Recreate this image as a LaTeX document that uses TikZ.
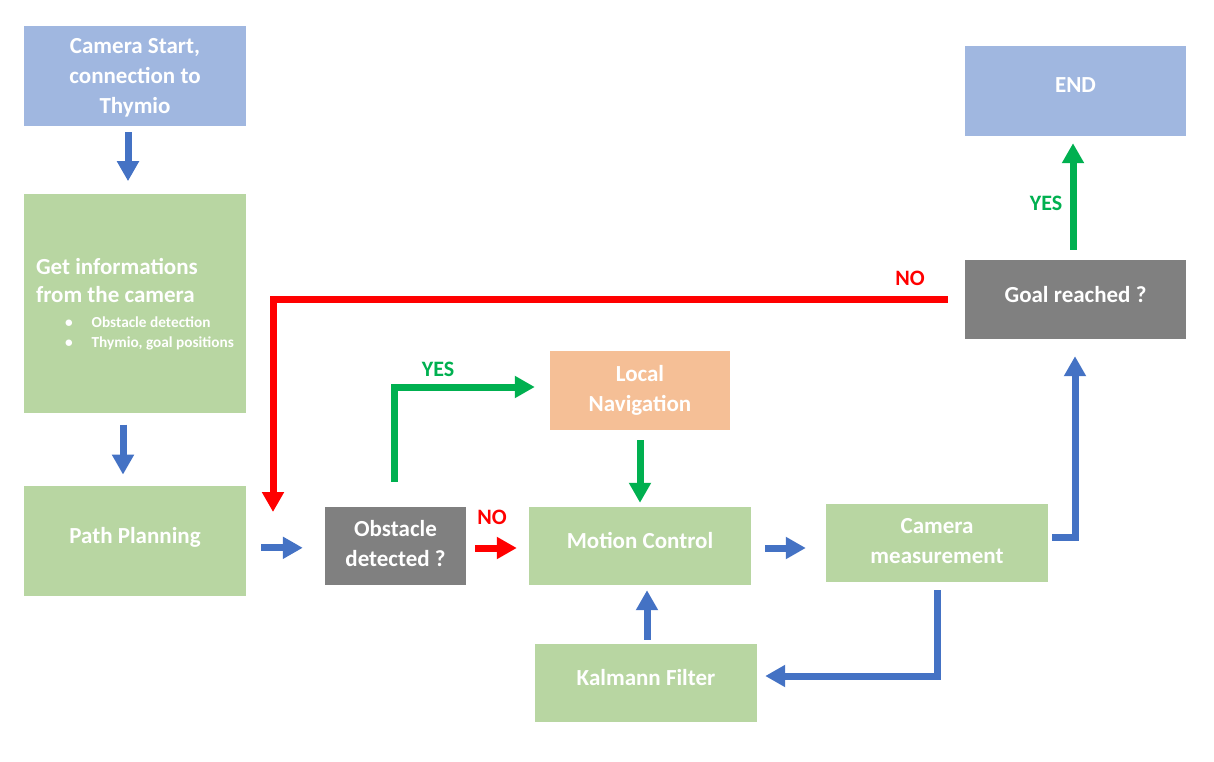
\documentclass[tikz,border=0pt]{standalone}
\usepackage{fontspec}
\setmainfont{Carlito}
\usetikzlibrary{arrows.meta,positioning}
\definecolor{boxblue}{RGB}{160,183,224}
\definecolor{boxgreen}{RGB}{184,214,162}
\definecolor{boxgray}{RGB}{128,128,128}
\definecolor{boxorange}{RGB}{245,191,150}
\definecolor{arrblue}{RGB}{68,114,196}
\definecolor{arrgreen}{RGB}{0,176,80}
\definecolor{arrred}{RGB}{255,0,0}
\newcommand\bulitem[1]{{\fontsize{15.3}{20}\selectfont\hspace*{29pt}\textbullet\hspace*{19pt}#1}}

\begin{document}
\begin{tikzpicture}[
    x=1pt, y=-1pt,
    font=\fontsize{23}{30}\selectfont\bfseries,
    n/.style={inner sep=0pt, align=center, text=white, text depth=5pt,
              minimum width=222pt, minimum height=78pt},
    oneline/.style={text depth=11pt},
    startend/.style={n, fill=boxblue},
    proc/.style={n, fill=boxgreen},
    decide/.style={n, fill=boxgray},
    local/.style={n, fill=boxorange},
    arr/.style={line width=7pt, -{Triangle[length=20pt,width=21pt]}},
    flow/.style={arr, draw=arrblue},
    yes/.style={arr, draw=arrgreen},
    no/.style={arr, draw=arrred},
    lbl/.style={font=\fontsize{22}{24}\selectfont\bfseries, inner sep=0pt},
    ]
\useasboundingbox (0,0) rectangle (1214,762);

\node[startend, minimum height=100pt, text depth=0pt] (cam) at (135,76) {Camera Start,\\connection to\\Thymio};
\node[proc, minimum height=219pt, text depth=, align=left, below=68pt of cam,
      font=\fontsize{23}{28}\selectfont\bfseries] (info)
     {Get informations\\from the camera\\[-3pt]
      \bulitem{Obstacle detection}\\[-8pt]
      \bulitem{Thymio, goal positions}};
\node[proc, oneline, minimum height=110pt, below=72pt of info] (pp) {Path Planning};
\node[decide, minimum width=141pt] (obs) at (395.5,546) {Obstacle\\detected ?};
\node[proc, oneline] (mc) at (640,546) {Motion Control};
\node[local, minimum width=180pt, minimum height=79pt] (ln) at (640,390.5) {Local\\Navigation};
\node[proc] (cm) at (937,543) {Camera\\measurement};
\node[proc, oneline] (kf) at (646,683) {Kalmann Filter};
\node[decide, oneline, minimum width=221pt, minimum height=79pt] (goal) at (1075.5,299.5) {Goal reached ?};
\node[startend, oneline, minimum width=221pt, minimum height=90pt] (stop) at (1075.5,91) {END};
\coordinate (merge) at (273,512);

% branch labels
\node[lbl, text=arrgreen] (yesobs) at (438,369) {YES};
\node[lbl, text=arrred] (noobs) at (492,517) {NO};
\node[lbl, text=arrgreen] (yesgoal) at (1046,203) {YES};
\node[lbl, text=arrred] (nogoal) at (910,278) {NO};

\draw[flow, shorten <=6pt, shorten >=13pt] ([xshift=-7pt]cam.south) -- ([xshift=-7pt]info.north);
\draw[flow, shorten <=11pt, shorten >=11pt] ([xshift=-12pt]info.south) -- ([xshift=-12pt]pp.north);
\draw[flow, shorten <=15pt, shorten >=22pt] ([yshift=-7pt]pp.east) -- ([yshift=-7pt]pp.east -| obs.west);
\draw[no, shorten <=9pt, shorten >=12pt] ([yshift=-2pt]obs.east) -- ([yshift=-2pt]mc.west);
\draw[yes] ([xshift=-1.5pt,yshift=25pt]obs.north) |- ([xshift=-15pt,yshift=3.5pt]ln.west);
\draw[yes, shorten <=10pt, shorten >=4pt] (ln.south) -- (mc.north);
\draw[flow, shorten <=14pt, shorten >=20pt] ([yshift=-2pt]mc.east) -- ([yshift=-2pt]mc.east -| cm.west);
\draw[flow, shorten <=4pt, shorten >=5pt] ([xshift=1pt]kf.north) -- ([xshift=1pt]kf.north |- mc.south);
\draw[flow] ([yshift=-8pt]cm.south) |- ([xshift=8pt,yshift=7pt]kf.east);
\draw[flow] ([xshift=4pt,yshift=6pt]cm.east) -| ([xshift=-0.5pt,yshift=-17pt]goal.south);
\draw[yes, shorten <=10pt, shorten >=7pt] ([xshift=-2.5pt]goal.north) -- ([xshift=-2.5pt]stop.south);
\draw[no] ([xshift=-17pt]goal.west) -| (merge);
\end{tikzpicture}
\end{document}
